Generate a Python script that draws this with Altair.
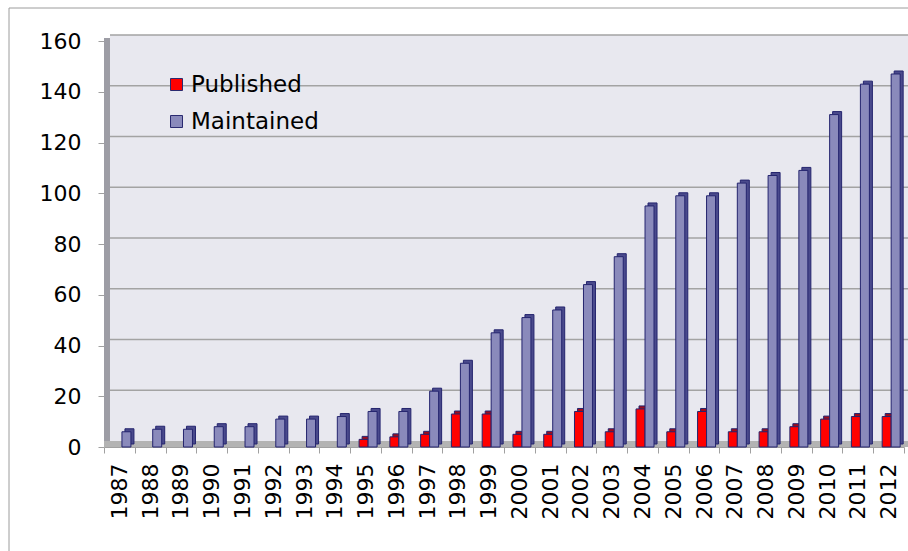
import altair as alt
import pandas as pd

years = ["1987", "1988", "1989", "1990", "1991", "1992", "1993", "1994", "1995",
         "1996", "1997", "1998", "1999", "2000", "2001", "2002", "2003", "2004",
         "2005", "2006", "2007", "2008", "2009", "2010", "2011", "2012"]
published = [None, None, None, None, None, None, None, None, 3, 4, 5, 13, 13,
             5, 5, 14, 6, 15, 6, 14, 6, 6, 8, 11, 12, 12]
maintained = [6, 7, 7, 8, 8, 11, 11, 12, 14, 14, 22, 33, 45, 51, 54, 64, 75,
              95, 99, 99, 104, 107, 109, 131, 143, 147]
series = ["Published", "Maintained"]
y_ticks = [0, 20, 40, 60, 80, 100, 120, 140, 160]
front_colors = ["#FF0000", "#8A8ABB"]
top_colors = ["#9E0C1C", "#4A4A8C"]

rows = []
for i, yr in enumerate(years):
    rows.append({"year": yr, "series": "Published", "value": published[i]})
    rows.append({"year": yr, "series": "Maintained", "value": maintained[i]})
df = pd.DataFrame(rows).dropna()
grid_df = pd.DataFrame({"value": y_ticks[1:]})
one = pd.DataFrame({"k": [0]})

W, H = 800, 406
D = 6  # depth of the 3D wall
FONT = "DejaVu Sans"

yscale = alt.Scale(domain=[0, 160], nice=False, zero=True)
xscale = alt.Scale(domain=years, paddingInner=0, paddingOuter=0)
xoff_front = alt.Scale(domain=series, paddingInner=0, paddingOuter=0.71, align=0.7)
xoff_depth = alt.Scale(domain=series, paddingInner=0, paddingOuter=0.71, align=0.935)

x_axis = alt.Axis(title=None, labelAngle=270, labelAlign="right",
                  labelBaseline="middle", tickBand="extent",
                  tickSize=6, tickColor="#A0A0A0", domainColor="#A0A0A0",
                  labelPadding=10, labelFontSize=22, labelFont=FONT,
                  labelColor="#000000", grid=False)
y_axis = alt.Axis(values=y_ticks, title=None, grid=False, domain=False,
                  tickSize=6, tickColor="#A0A0A0", labelPadding=17,
                  labelFontSize=22, labelFont=FONT, labelColor="#000000")

x_enc = alt.X("year:N", sort=years, scale=xscale, axis=x_axis)
y_enc = alt.Y("value:Q", scale=yscale, axis=y_axis)

wall = alt.Chart(one).mark_rect(fill="#E8E8EF").encode(
    x=alt.value(D), x2=alt.value(W + D), y=alt.value(-D), y2=alt.value(H - D))
left_wall = alt.Chart(one).mark_rect(fill="#9D9DA5").encode(
    x=alt.value(0), x2=alt.value(D), y=alt.value(-D / 2), y2=alt.value(H))
floor = alt.Chart(one).mark_rect(fill="#B3B3B3").encode(
    x=alt.value(0), x2=alt.value(W + D), y=alt.value(H - D), y2=alt.value(H))
grid = alt.Chart(grid_df).mark_rule(color="#A3A3A3", strokeWidth=1.5, yOffset=-D).encode(
    y=y_enc, x=alt.value(D), x2=alt.value(W + D))

depth = alt.Chart(df).mark_bar(yOffset=-3, stroke="#24246E", strokeWidth=1).encode(
    x=x_enc, xOffset=alt.XOffset("series:N", sort=series, scale=xoff_depth), y=y_enc,
    fill=alt.condition(alt.datum.series == "Published",
                       alt.value(top_colors[0]), alt.value(top_colors[1])))
front = alt.Chart(df).mark_bar(stroke="#24246E", strokeWidth=1).encode(
    x=x_enc, xOffset=alt.XOffset("series:N", sort=series, scale=xoff_front), y=y_enc,
    color=alt.Color("series:N", sort=series,
                    scale=alt.Scale(domain=series, range=front_colors),
                    legend=alt.Legend(title=None, orient="none", legendX=61, legendY=32,
                                      symbolType="square", symbolSize=144,
                                      symbolStrokeColor="#2A2A70", symbolStrokeWidth=1,
                                      labelFontSize=23, labelFont=FONT,
                                      labelColor="#000000", labelOffset=3,
                                      rowPadding=13, padding=0, direction="vertical")))

frame_top = alt.Chart(one).mark_rule(color="#9C9C9C", strokeWidth=1).encode(
    x=alt.value(-95), x2=alt.value(W + 4), y=alt.value(-33))
frame_left = alt.Chart(one).mark_rule(color="#9C9C9C", strokeWidth=1).encode(
    x=alt.value(-95), y=alt.value(-33), y2=alt.value(H + 104))

chart = alt.layer(wall, left_wall, floor, grid, depth, front, frame_top, frame_left).resolve_scale(
    xOffset="independent"
).properties(
    width=W, height=H,
    autosize=alt.AutoSizeParams(type="none"),
    padding={"left": 104, "top": 41, "right": 4, "bottom": 104},
    background="#FFFFFF",
).configure_view(strokeWidth=0)

chart.save("out.html", embed_options={"renderer": "svg", "actions": False})
